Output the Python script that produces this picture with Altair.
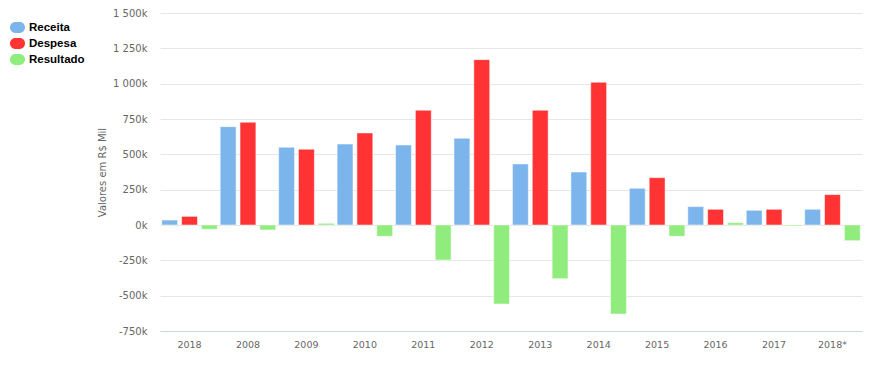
import altair as alt
import pandas as pd

years = ["2018", "2008", "2009", "2010", "2011", "2012", "2013", "2014",
         "2015", "2016", "2017", "2018*"]
receita = [35, 696, 550, 573, 566, 614, 432, 375, 260, 130, 104, 111]
despesa = [61, 727, 536, 651, 812, 1170, 812, 1010, 335, 111, 111, 215]
resultado = [-30, -35, 12, -80, -248, -559, -380, -630, -80, 16, -7, -111]
series = ["Receita", "Despesa", "Resultado"]
colors = ["#7cb5ec", "#ff3333", "#90ed7d"]
y_ticks = [-750, -500, -250, 0, 250, 500, 750, 1000, 1250, 1500]

rows = []
for i, yr in enumerate(years):
    for s, vals in zip(series, [receita, despesa, resultado]):
        rows.append({"ano": yr, "serie": s, "valor": vals[i]})
df = pd.DataFrame(rows)

stadium = "M -0.3 -0.72 L 0.3 -0.72 A 0.7 0.72 0 0 1 0.3 0.72 L -0.3 0.72 A 0.7 0.72 0 0 1 -0.3 -0.72 Z"

label_expr = ("(datum.value < 0 ? '-' : '') + "
              "replace(format(abs(datum.value), ','), ',', ' ') + 'k'")

chart = alt.Chart(df).mark_bar(stroke="white", strokeWidth=0.5).encode(
    x=alt.X("ano:N", sort=years,
            scale=alt.Scale(paddingInner=0.05, paddingOuter=0.03),
            axis=alt.Axis(title=None, labelAngle=0, ticks=False, grid=False,
                          domainColor="#ccd6eb", labelColor="#666666",
                          labelFont="DejaVu Sans", labelFontSize=9.5,
                          labelPadding=8)),
    xOffset=alt.XOffset("serie:N", sort=series,
                        scale=alt.Scale(domain=series, paddingInner=0.2, paddingOuter=0)),
    y=alt.Y("valor:Q",
            scale=alt.Scale(domain=[-750, 1500], nice=False, zero=False),
            axis=alt.Axis(title="Valores em R$ Mil", values=y_ticks,
                          labelExpr=label_expr, domain=False, ticks=False,
                          gridColor="#e6e6e6", gridWidth=1,
                          labelColor="#666666", labelFont="DejaVu Sans",
                          labelFontSize=10, labelPadding=13,
                          titleColor="#666666", titleFont="DejaVu Sans",
                          titleFontSize=10, titleFontWeight="normal",
                          titlePadding=5)),
    color=alt.Color("serie:N", sort=series,
                    scale=alt.Scale(domain=series, range=colors),
                    legend=alt.Legend(title=None, orient="none",
                                      legendX=-150, legendY=7,
                                      symbolType=stadium, symbolSize=225,
                                      symbolStrokeWidth=0, symbolOpacity=1,
                                      labelFont="Liberation Sans",
                                      labelFontSize=11.5, labelFontWeight="bold",
                                      labelColor="#000000", rowPadding=3,
                                      labelOffset=4, padding=0)),
).properties(
    width=702, height=318,
    autosize=alt.AutoSizeParams(type="none"),
    padding={"left": 152, "top": 5, "right": 11, "bottom": 50},
).configure_view(stroke=None)

chart.save("out.html", embed_options={"renderer": "svg", "actions": False})
